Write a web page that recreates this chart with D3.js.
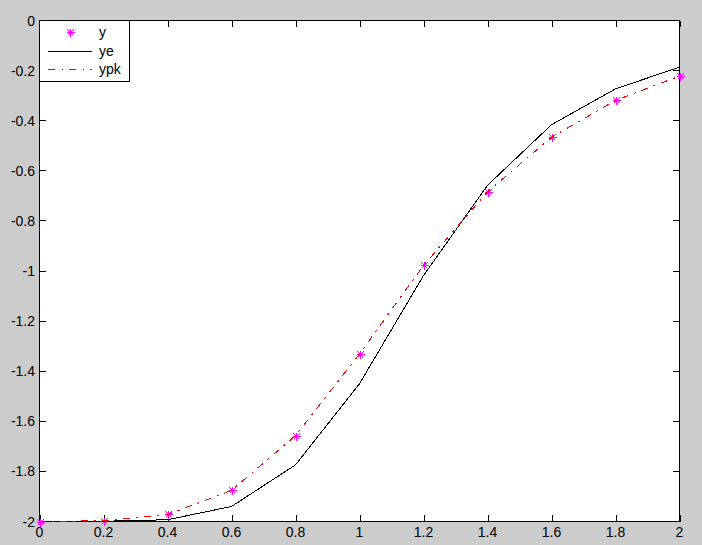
<!DOCTYPE html>
<html><head><meta charset="utf-8">
<script src="https://cdn.jsdelivr.net/npm/d3@7"></script>
<style>body{margin:0;background:#cccccc;}svg{display:block;}</style>
</head><body>
<svg id="c" width="702" height="545"></svg>
<script>
const xs = [0, 0.2, 0.4, 0.6, 0.8, 1.0, 1.2, 1.4, 1.6, 1.8, 2.0];
const yVals = [-2.0, -1.998, -1.972, -1.876, -1.657, -1.331, -0.978, -0.684, -0.466, -0.319, -0.222];
const yeVals = [-2.0, -1.999, -1.993, -1.940, -1.774, -1.450, -1.018, -0.658, -0.416, -0.273, -0.186];
const ypkVals = [-2.0, -1.997, -1.972, -1.876, -1.657, -1.331, -0.978, -0.684, -0.466, -0.319, -0.222];
const xTicks = [0, 0.2, 0.4, 0.6, 0.8, 1, 1.2, 1.4, 1.6, 1.8, 2];
const xTickLabels = ["0", "0.2", "0.4", "0.6", "0.8", "1", "1.2", "1.4", "1.6", "1.8", "2"];
const yTicks = [0, -0.2, -0.4, -0.6, -0.8, -1, -1.2, -1.4, -1.6, -1.8, -2];
const yTickLabels = ["0", "-0.2", "-0.4", "-0.6", "-0.8", "-1", "-1.2", "-1.4", "-1.6", "-1.8", "-2"];
const legendLabels = ["y", "ye", "ypk"];

const svg = d3.select("#c");
const L = 39.5, R = 679.5, T = 20.5, B = 521.5;
const x = d3.scaleLinear().domain([0, 2]).range([L, R]);
const y = d3.scaleLinear().domain([-2, 0]).range([B, T]);
const font = "'Liberation Sans', Arial, sans-serif";

svg.append("rect").attr("x", L).attr("y", T).attr("width", R - L).attr("height", B - T).attr("fill", "#fff");

const tl = 6.5;
xTicks.forEach((t, i) => {
  const px = Math.round(x(t)) + 0.5;
  svg.append("line").attr("x1", px).attr("x2", px).attr("y1", B).attr("y2", B - tl).attr("stroke", "#000").attr("shape-rendering", "crispEdges");
  svg.append("line").attr("x1", px).attr("x2", px).attr("y1", T).attr("y2", T + tl).attr("stroke", "#000").attr("shape-rendering", "crispEdges");
  svg.append("text").attr("x", x(t)).attr("y", 537).attr("text-anchor", "middle")
    .attr("font-family", font).attr("font-size", 14).attr("fill", "#000").text(xTickLabels[i]);
});
yTicks.forEach((t, i) => {
  const py = Math.round(y(t) - 0.5) + 0.5;
  svg.append("line").attr("x1", L).attr("x2", L + tl).attr("y1", py).attr("y2", py).attr("stroke", "#000").attr("shape-rendering", "crispEdges");
  svg.append("line").attr("x1", R).attr("x2", R - tl).attr("y1", py).attr("y2", py).attr("stroke", "#000").attr("shape-rendering", "crispEdges");
  svg.append("text").attr("x", 35).attr("y", y(t) + 5).attr("text-anchor", "end")
    .attr("font-family", font).attr("font-size", 14).attr("fill", "#000").text(yTickLabels[i]);
});

svg.append("rect").attr("x", L).attr("y", T).attr("width", R - L).attr("height", B - T)
  .attr("fill", "none").attr("stroke", "#000").attr("shape-rendering", "crispEdges");

function star(g, cx, cy, s, color) {
  cx = Math.round(cx) + 0.5; cy = Math.round(cy) + 0.5;
  const d = Math.round(s * 0.75);
  const p = `M${cx - s},${cy}L${cx + s},${cy}M${cx},${cy - s}L${cx},${cy + s}` +
    `M${cx - d},${cy - d}L${cx + d},${cy + d}M${cx - d},${cy + d}L${cx + d},${cy - d}`;
  g.append("path").attr("d", p).attr("stroke", color).attr("stroke-width", 1).attr("fill", "none")
    .attr("shape-rendering", "crispEdges");
}

const line = d3.line().x((d, i) => x(xs[i])).y(d => y(d));
const gStars = svg.append("g");
yVals.forEach((v, i) => star(gStars, x(xs[i]), y(v), 4, "#ff00ff"));
svg.append("path").datum(yeVals).attr("d", line).attr("fill", "none").attr("stroke", "#000").attr("stroke-width", 1)
  .attr("shape-rendering", "crispEdges");
svg.append("path").datum(ypkVals).attr("d", line).attr("fill", "none").attr("stroke", "#ff0000").attr("stroke-width", 1)
  .attr("stroke-dasharray", "7,6,2,6").attr("shape-rendering", "crispEdges");

const lg = svg.append("g");
lg.append("rect").attr("x", L).attr("y", T).attr("width", 90).attr("height", 61)
  .attr("fill", "#fff").attr("stroke", "#000").attr("shape-rendering", "crispEdges");
star(lg, 70, 32, 4, "#ff00ff");
lg.append("line").attr("x1", 48).attr("x2", 92).attr("y1", 51.5).attr("y2", 51.5).attr("stroke", "#000").attr("shape-rendering", "crispEdges");
lg.append("line").attr("x1", 48).attr("x2", 92).attr("y1", 69.5).attr("y2", 69.5).attr("stroke", "#ff0000").attr("stroke-dasharray", "7,7,1,6").attr("shape-rendering", "crispEdges");
[32, 51, 69].forEach((yy, i) => {
  lg.append("text").attr("x", 99).attr("y", yy + 5).attr("font-family", font).attr("font-size", 14).attr("fill", "#000").text(legendLabels[i]);
});
</script>
</body></html>
